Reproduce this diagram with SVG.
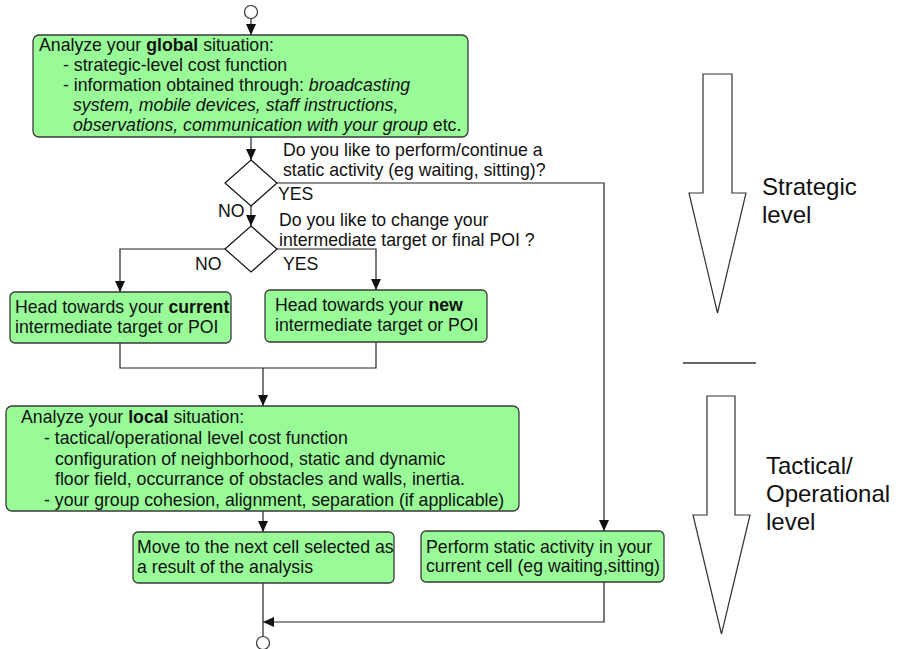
<svg xmlns="http://www.w3.org/2000/svg" width="899" height="649" viewBox="0 0 899 649">
  <style>
    text { font-family: "Liberation Sans", Arial, sans-serif; font-size: 17.7px; fill: #111; }
    .box { fill: #98fb98; stroke: #3a3a3a; stroke-width: 1.3; }
    .dec { fill: #fff; stroke: #111; stroke-width: 1.2; }
    .term { fill: #fff; stroke: #333; stroke-width: 1.2; }
    .wire { fill: none; stroke: #222; stroke-width: 1.2; }
    .arrowed { marker-end: url(#head); }
    .big { fill: #fff; stroke: #333; stroke-width: 1.2; stroke-linejoin: miter; }
    .lvl { font-size: 24px; }
    .b { font-weight: bold; }
    .i { font-style: italic; }
  </style>
  <defs>
    <marker id="head" markerUnits="userSpaceOnUse" markerWidth="12" markerHeight="10" refX="11" refY="5" orient="auto">
      <path d="M0,0 L11,5 L0,10 z" fill="#111"/>
    </marker>
  </defs>

  <!-- connectors -->
  <g id="connectors">
    <path class="wire arrowed" d="M251,18.5 V35"/>
    <path class="wire arrowed" d="M251,137 V160"/>
    <path class="wire arrowed" d="M277,183 H604 V531"/>
    <path class="wire arrowed" d="M251,206 V226"/>
    <path class="wire arrowed" d="M225,249 H120 V292"/>
    <path class="wire arrowed" d="M277,249 H376 V290"/>
    <path class="wire" d="M120,343 V368 H376 V342"/>
    <path class="wire arrowed" d="M263,368 V406"/>
    <path class="wire arrowed" d="M263,511 V532"/>
    <path class="wire arrowed" d="M604,582 V622 H263"/>
    <path class="wire" d="M263,583 V636"/>
  </g>

  <g id="start"><circle class="term" cx="251" cy="12" r="6.5"/></g>

  <g id="global-analysis">
    <rect class="box" x="33" y="35" width="435" height="102" rx="6"/>
    <text x="39" y="51">Analyze your <tspan class="b">global</tspan> situation:</text>
    <text x="63" y="71">- strategic-level cost function</text>
    <text x="63" y="91">- information obtained through: <tspan class="i">broadcasting</tspan></text>
    <text x="73" y="111" class="i">system, mobile devices, staff instructions,</text>
    <text x="73" y="131"><tspan class="i">observations, communication with your group</tspan> etc.</text>
  </g>

  <g id="static-decision">
    <path class="dec" d="M251,160 L277,183 L251,206 L225,183 Z"/>
    <text x="283" y="156">Do you like to perform/continue a</text>
    <text x="283" y="176">static activity (eg waiting, sitting)?</text>
    <text x="278" y="200">YES</text>
    <text x="218" y="217">NO</text>
  </g>

  <g id="target-decision">
    <path class="dec" d="M251,226 L277,249 L251,272 L225,249 Z"/>
    <text x="279" y="226">Do you like to change your</text>
    <text x="279" y="246">intermediate target or final POI ?</text>
    <text x="283" y="270">YES</text>
    <text x="195" y="270">NO</text>
  </g>

  <g id="current-target">
    <rect class="box" x="10" y="292" width="221" height="51" rx="5"/>
    <text x="15" y="313">Head towards your <tspan class="b">current</tspan></text>
    <text x="15" y="333">intermediate target or POI</text>
  </g>

  <g id="new-target">
    <rect class="box" x="265" y="290" width="222" height="52" rx="5"/>
    <text x="275" y="311">Head towards your <tspan class="b">new</tspan></text>
    <text x="275" y="331">intermediate target or POI</text>
  </g>

  <g id="local-analysis">
    <rect class="box" x="6" y="406" width="513" height="105" rx="6"/>
    <text x="21" y="423">Analyze your <tspan class="b">local</tspan> situation:</text>
    <text x="44" y="444">- tactical/operational level cost function</text>
    <text x="55" y="465">configuration of neighborhood, static and dynamic</text>
    <text x="55" y="485">floor field, occurrance of obstacles and walls, inertia.</text>
    <text x="44" y="506">- your group cohesion, alignment, separation (if applicable)</text>
  </g>

  <g id="move">
    <rect class="box" x="133" y="532" width="261" height="51" rx="5"/>
    <text x="137" y="553">Move to the next cell selected as</text>
    <text x="137" y="573">a result of the analysis</text>
  </g>

  <g id="static-activity">
    <rect class="box" x="421" y="531" width="243" height="51" rx="5"/>
    <text x="426" y="553">Perform static activity in your</text>
    <text x="426" y="572">current cell (eg waiting,sitting)</text>
  </g>

  <g id="end"><circle class="term" cx="263" cy="643" r="6.5"/></g>

  <!-- level indicators -->
  <g id="strategic-level">
    <path class="big" d="M703,74 H732 V193 H746 L717.5,313 L689,193 H703 Z"/>
    <text class="lvl" x="762" y="195">Strategic</text>
    <text class="lvl" x="762" y="223">level</text>
  </g>
  <line x1="683" y1="363" x2="756" y2="363" stroke="#666" stroke-width="2"/>
  <g id="tactical-level">
    <path class="big" d="M707,396 H735 V515 H750 L721.5,634 L693,515 H707 Z"/>
    <text class="lvl" x="766" y="474">Tactical/</text>
    <text class="lvl" x="766" y="502">Operational</text>
    <text class="lvl" x="766" y="530">level</text>
  </g>
</svg>
